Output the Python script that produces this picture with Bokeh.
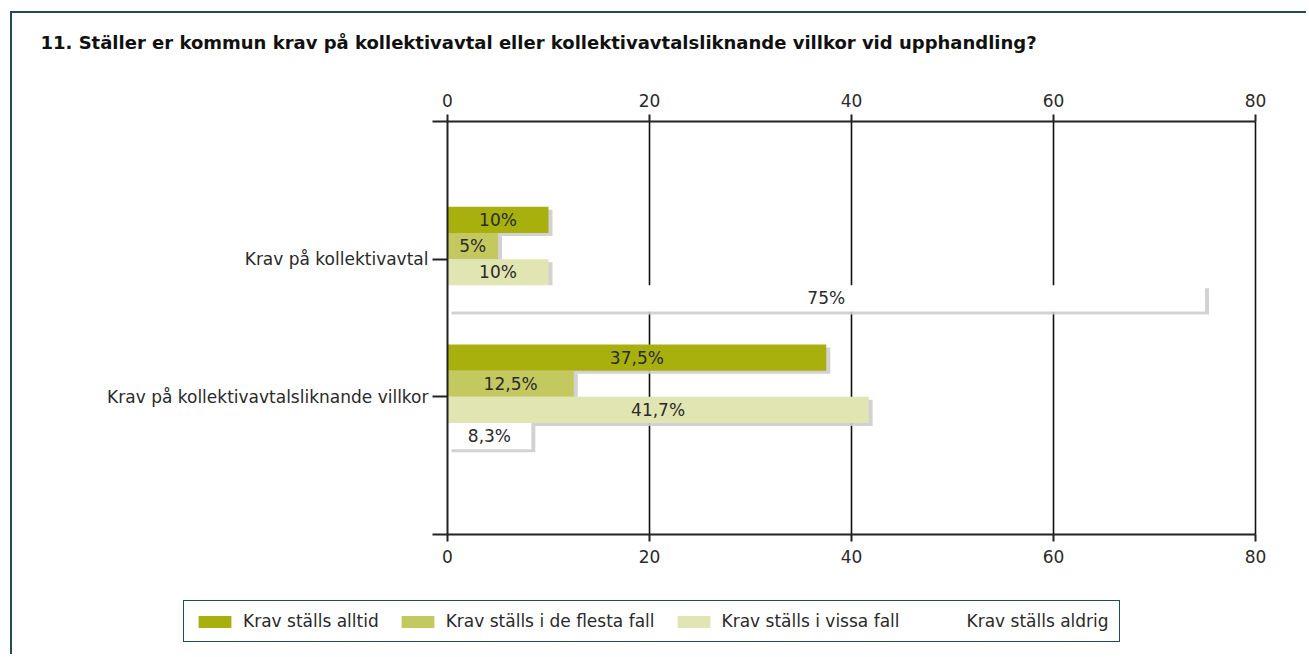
from bokeh.plotting import figure
from bokeh.models import (Range1d, LinearAxis, FixedTicker, ColumnDataSource,
                          Legend, LegendItem)
from bokeh.core.properties import value
from bokeh.embed import file_html
from bokeh.resources import INLINE

# ---------------- data ----------------
title_text = "11. Ställer er kommun krav på kollektivavtal eller kollektivavtalsliknande villkor vid upphandling?"
categories = ["Krav på kollektivavtal", "Krav på kollektivavtalsliknande villkor"]
series_names = ["Krav ställs alltid", "Krav ställs i de flesta fall",
                "Krav ställs i vissa fall", "Krav ställs aldrig"]
alltid = [10, 37.5]
flesta = [5, 12.5]
vissa = [10, 41.7]
aldrig = [75, 8.3]
x_ticks = [0, 20, 40, 60, 80]

# ---------------- styles / layout ----------------
FONT = "DejaVu Sans"
FS = "17px"
colors = ["#a8b00e", "#c4c95f", "#e0e5b2", "#ffffff"]
shadow_color = "#cdcdcd"
border_color = "#1f4e4c"
text_color = "#2a2a2a"
axis_color = "#222222"

CL, CT = 12, 13            # canvas origin on the page
W, H = 1296, 643           # canvas size
MT = 56                    # space for the title
FT = CT + MT               # frame top (page px)
FB = CT + H                # frame bottom (page px)
FR = CL + W                # frame right (page px)
PX0, PX1 = 447, 1255       # page px of the value axis ends
PY0, PY1 = 121, 534        # page px of the category axis ends
XMAX, YMAX = 80, 3
pxx = (PX1 - PX0) / XMAX
pxy = (PY1 - PY0) / YMAX
x_start = -(PX0 - CL) / pxx
x_end = XMAX + (FR - PX1) / pxx
y_top = -(PY0 - FT) / pxy
y_bottom = YMAX + (FB - PY1) / pxy
bar_h = 0.19
sdx, sdy = 4 / pxx, 3 / pxy

p = figure(width=W, height=H, x_range=Range1d(x_start, x_end),
           y_range=Range1d(y_bottom, y_top),
           output_backend="svg", toolbar_location=None,
           x_axis_location=None, y_axis_location=None,
           min_border_left=0, min_border_right=0, min_border_top=MT, min_border_bottom=0,
           title=title_text)
p.styles = {"border-top": f"2px solid {border_color}",
            "border-left": f"2px solid {border_color}",
            "margin-left": f"{CL - 2}px", "margin-top": f"{CT - 2}px"}
p.outline_line_color = None
p.background_fill_color = "white"
p.border_fill_color = "white"
p.xgrid.visible = False
p.ygrid.visible = False

# title
p.title.text_font = FONT
p.title.text_font_size = "18px"
p.title.text_font_style = "bold"
p.title.text_color = "#111111"
p.title.align = "left"
p.title.offset = 40 - CL
p.title.standoff = 33

# x axes (bottom + top), pinned to the ends of the category range
def make_xaxis(loc, standoff):
    ax = LinearAxis(fixed_location=loc, bounds=(0, XMAX))
    ax.ticker = FixedTicker(ticks=x_ticks)
    ax.major_tick_out = 7
    ax.major_tick_in = 0
    ax.minor_tick_out = 0
    ax.minor_tick_in = 0
    ax.axis_line_color = axis_color
    ax.axis_line_width = 2
    ax.major_tick_line_color = axis_color
    ax.major_tick_line_width = 2
    ax.major_label_text_font = FONT
    ax.major_label_text_font_size = FS
    ax.major_label_text_color = text_color
    ax.major_label_standoff = standoff
    return ax

p.add_layout(make_xaxis(YMAX, 8), "below")
p.add_layout(make_xaxis(0, 8), "above")

# y axis with categories at 1 and 2, pinned at x = 0
yax = LinearAxis(fixed_location=0, bounds=(0, YMAX))
yax.ticker = FixedTicker(ticks=list(range(0, YMAX + 1)))
overrides = {0: "", YMAX: ""}
for i, c in enumerate(categories):
    overrides[i + 1] = c
yax.major_label_overrides = overrides
yax.major_tick_out = 15
yax.major_tick_in = 0
yax.minor_tick_out = 0
yax.minor_tick_in = 0
yax.axis_line_color = axis_color
yax.axis_line_width = 2
yax.major_tick_line_color = axis_color
yax.major_tick_line_width = 2
yax.major_label_text_font = FONT
yax.major_label_text_font_size = FS
yax.major_label_text_color = text_color
yax.major_label_standoff = 4
p.add_layout(yax, "left")

# vertical grid lines between the two value axes
grid_src = ColumnDataSource(dict(x=x_ticks[1:], y0=[0] * 4, y1=[YMAX] * 4))
p.segment(x0="x", y0="y0", x1="x", y1="y1", source=grid_src,
          line_color="#111111", line_width=1.6, level="underlay")

# bars
series_vals = [alltid, flesta, vissa, aldrig]
n = len(series_vals)
sources = []
for k, vals in enumerate(series_vals):
    ys = [(i + 1) + (k - (n - 1) / 2) * bar_h for i in range(len(categories))]
    labels = [("%g" % v).replace(".", ",") + "%" for v in vals]
    src = ColumnDataSource(dict(y=ys, v=vals, mid=[v / 2 for v in vals],
                                sy=[y + sdy for y in ys], sl=[sdx] * len(vals),
                                sr=[v + sdx for v in vals], label=labels))
    sources.append(src)

for src in sources:
    p.hbar(y="sy", left="sl", right="sr", height=bar_h, source=src,
           fill_color=shadow_color, line_color=None, fill_alpha=0.9)

renderers = []
for k, src in enumerate(sources):
    r = p.hbar(y="y", left=0, right="v", height=bar_h, source=src,
               fill_color=colors[k], line_color=None)
    renderers.append(r)

for src in sources:
    p.text(x="mid", y="y", text="label", source=src, text_align="center",
           text_baseline="middle", text_font=value(FONT), text_font_size=FS,
           text_color=text_color)

legend = Legend(items=[LegendItem(label=series_names[k], renderers=[renderers[k]])
                       for k in range(n)],
                orientation="horizontal", location=(183 - CL, FB - 642))
legend.border_line_color = border_color
legend.border_line_alpha = 1
legend.border_line_width = 1.5
legend.background_fill_color = "white"
legend.background_fill_alpha = 1
legend.label_text_font = FONT
legend.label_text_font_size = FS
legend.label_text_color = text_color
legend.glyph_width = 41
legend.glyph_height = 15
legend.label_height = 15
legend.label_standoff = 8
legend.spacing = 18
legend.padding = 10
legend.margin = 0
p.add_layout(legend)

open("out.html", "w").write(file_html(p, INLINE))
